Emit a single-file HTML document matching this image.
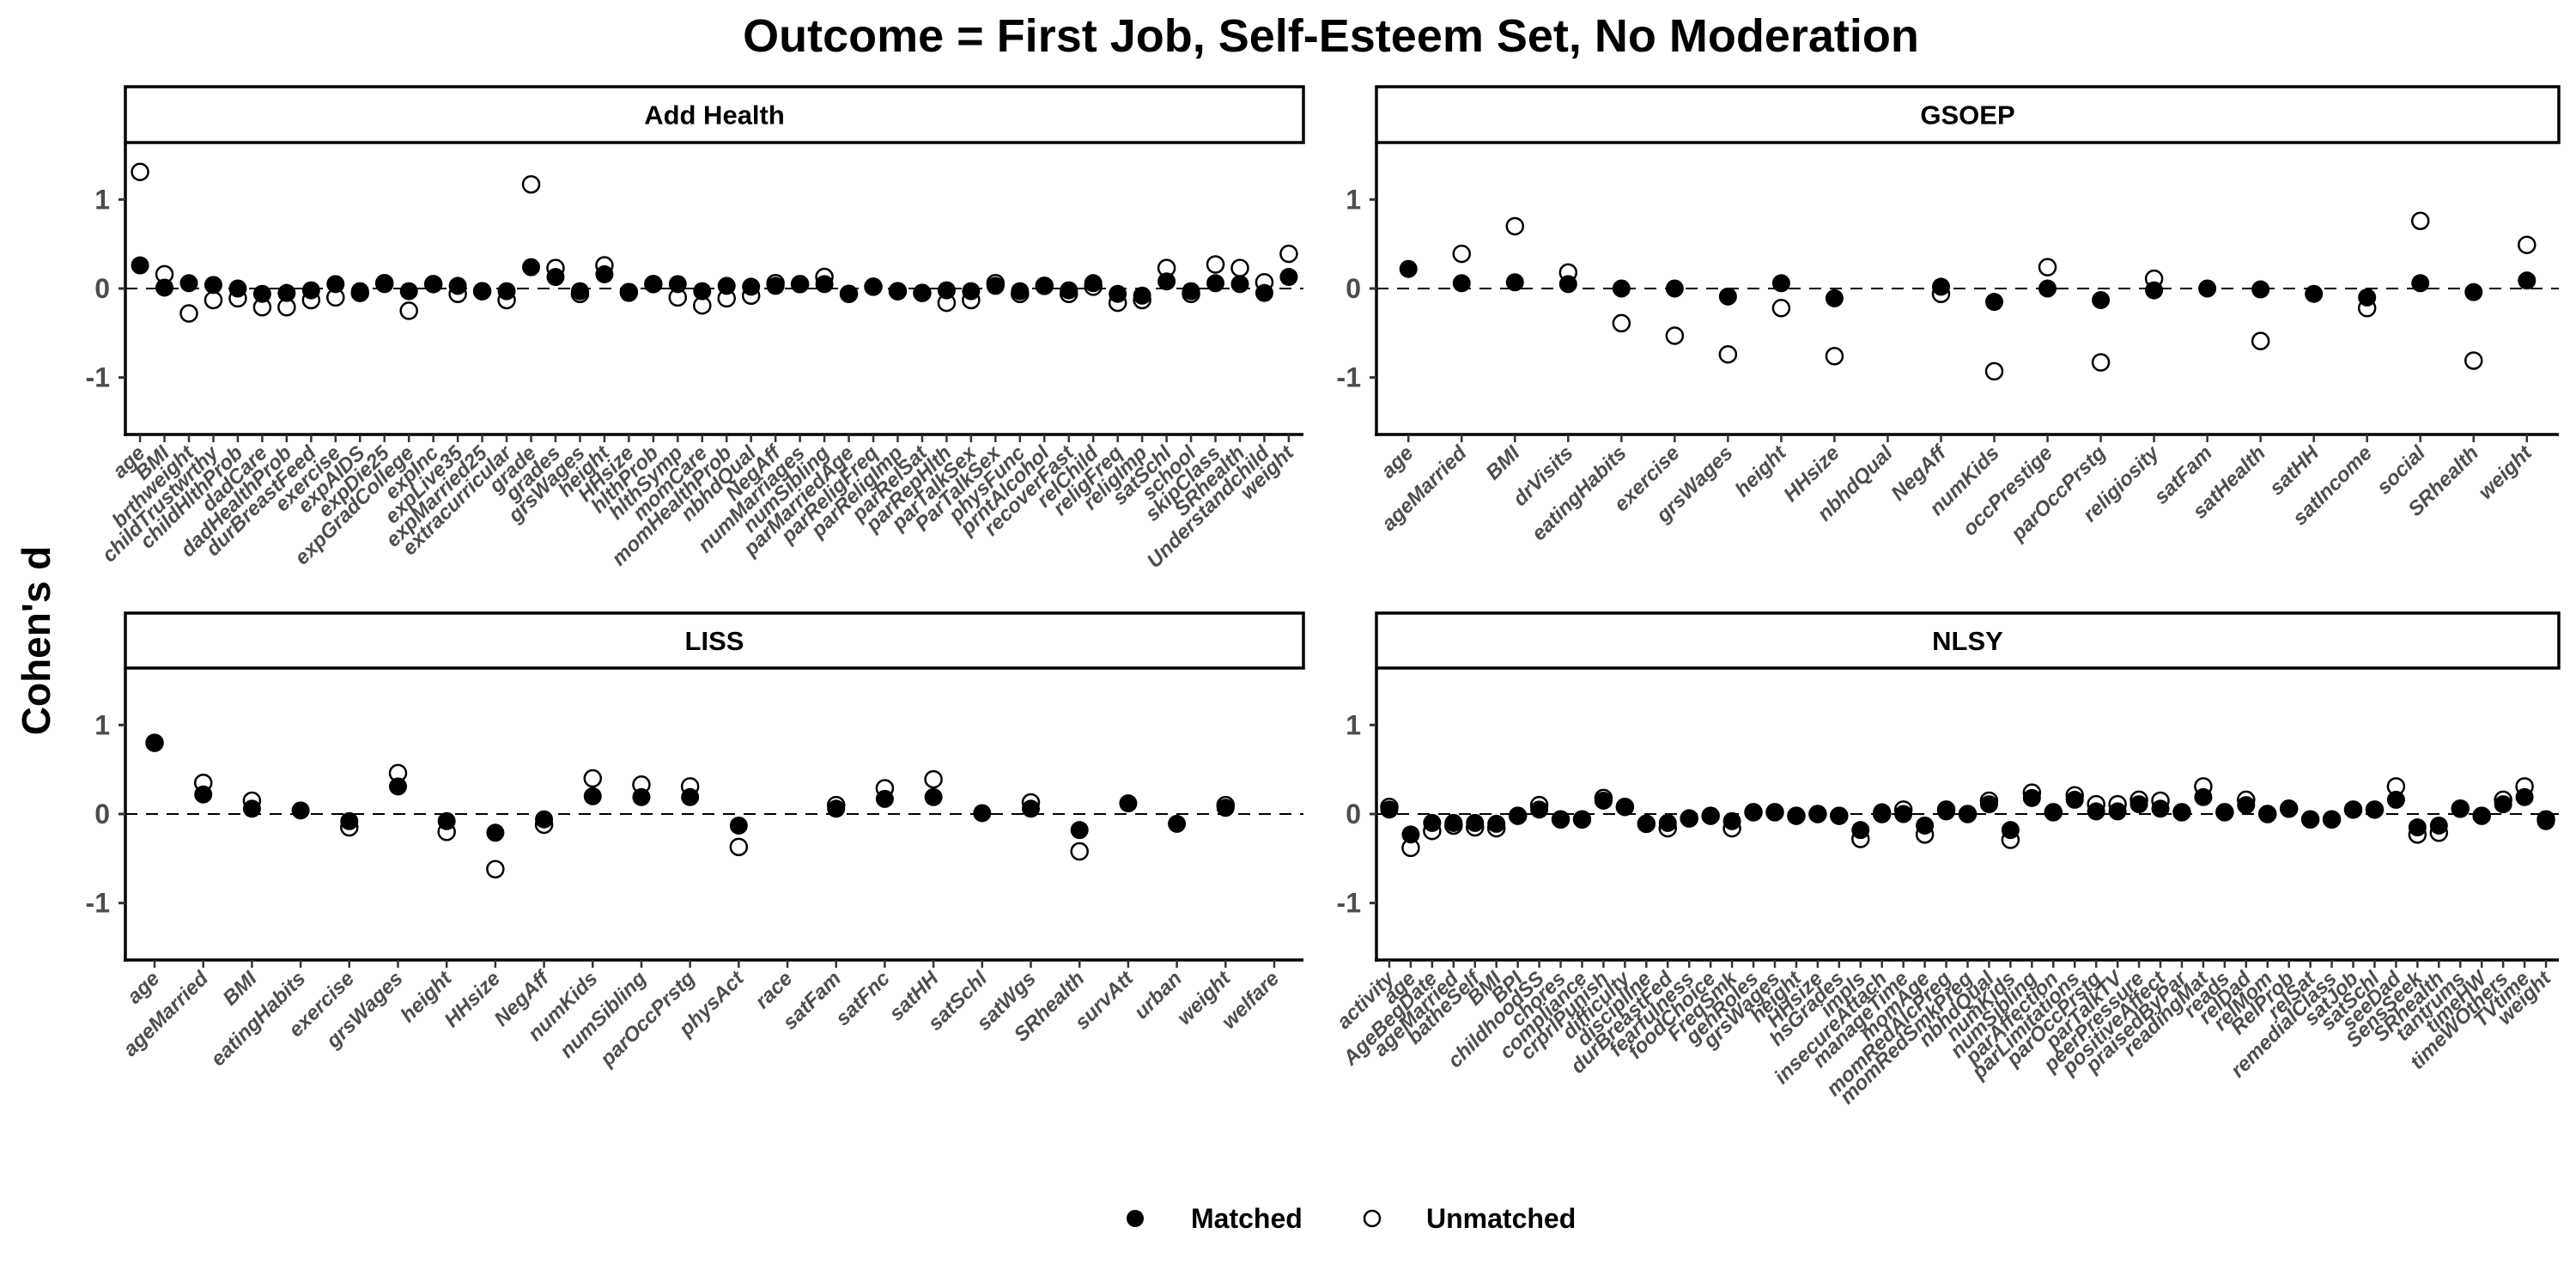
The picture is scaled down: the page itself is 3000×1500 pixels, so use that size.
<!DOCTYPE html>
<html><head><meta charset="utf-8"><style>
html,body{margin:0;padding:0;background:#fff;}
svg{display:block;font-family:"Liberation Sans",Arial,sans-serif;}
</style></head><body>
<svg id="chart" width="3000" height="1500" viewBox="0 0 3000 1500" xmlns="http://www.w3.org/2000/svg">
<text x="1550" y="60" text-anchor="middle" font-size="54" font-weight="bold">Outcome = First Job, Self-Esteem Set, No Moderation</text>
<text transform="translate(58,746) rotate(-90)" text-anchor="middle" font-size="46" font-weight="bold">Cohen's d</text>
<g>
<circle cx="1322" cy="1419" r="10" fill="#000"/>
<text x="1387" y="1430" font-size="32" font-weight="bold">Matched</text>
<circle cx="1598" cy="1419" r="9" fill="none" stroke="#000" stroke-width="2.5"/>
<text x="1661" y="1430" font-size="32" font-weight="bold">Unmatched</text>
</g>
<g id="panels"></g>
</svg>
<script>
const ahCats=["age","BMI","brthweight","childTrustwrthy","childHlthProb","dadCare","dadHealthProb","durBreastFeed","exercise","expAIDS","expDie25","expGradCollege","expInc","expLive35","expMarried25","extracurricular","grade","grades","grsWages","height","HHsize","hlthProb","hlthSymp","momCare","momHealthProb","nbhdQual","NegAff","numMarriages","numSibling","parMarriedAge","parReligFreq","parReligImp","parRelSat","parRepHlth","parTalkSex","ParTalkSex","physFunc","prntAlcohol","recoverFast","relChild","religFreq","religImp","satSchl","school","skipClass","SRhealth","Understandchild","weight"];
const ahMatched=[0.26,0.01,0.06,0.04,0,-0.06,-0.05,-0.02,0.05,-0.03,0.05,-0.03,0.05,0.03,-0.03,-0.03,0.24,0.13,-0.03,0.16,-0.05,0.05,0.05,-0.03,0.03,0.02,0.03,0.05,0.05,-0.06,0.02,-0.03,-0.05,-0.02,-0.03,0.03,-0.03,0.03,-0.02,0.06,-0.06,-0.08,0.08,-0.03,0.06,0.05,-0.05,0.13];
const ahUnmatched=[1.31,0.16,-0.28,-0.13,-0.11,-0.21,-0.21,-0.13,-0.1,-0.05,0.06,-0.25,0.05,-0.06,-0.03,-0.13,1.17,0.23,-0.06,0.26,-0.04,0.05,-0.1,-0.19,-0.11,-0.08,0.06,0.05,0.13,-0.06,0.02,-0.03,-0.05,-0.16,-0.13,0.06,-0.06,0.03,-0.06,0.02,-0.16,-0.13,0.23,-0.06,0.27,0.23,0.07,0.39];
const gsCats=["age","ageMarried","BMI","drVisits","eatingHabits","exercise","grsWages","height","HHsize","nbhdQual","NegAff","numKids","occPrestige","parOccPrstg","religiosity","satFam","satHealth","satHH","satIncome","social","SRhealth","weight"];
const gsMatched=[0.22,0.06,0.07,0.05,0,0,-0.09,0.06,-0.11,null,0.02,-0.15,0,-0.13,-0.02,0,-0.01,-0.06,-0.1,0.06,-0.04,0.09];
const gsUnmatched=[null,0.39,0.7,0.18,-0.39,-0.53,-0.74,-0.22,-0.76,null,-0.06,-0.93,0.24,-0.83,0.11,null,-0.59,null,-0.22,0.76,-0.81,0.49];
const liCats=["age","ageMarried","BMI","eatingHabits","exercise","grsWages","height","HHsize","NegAff","numKids","numSibling","parOccPrstg","physAct","race","satFam","satFnc","satHH","satSchl","satWgs","SRhealth","survAtt","urban","weight","welfare"];
const liMatched=[0.8,0.22,0.06,0.04,-0.08,0.31,-0.08,-0.21,-0.06,0.2,0.19,0.19,-0.13,null,0.06,0.17,0.19,0.01,0.06,-0.18,0.12,-0.11,0.07,null];
const liUnmatched=[0.8,0.35,0.15,null,-0.15,0.46,-0.2,-0.62,-0.12,0.4,0.33,0.31,-0.37,null,0.1,0.29,0.39,null,0.13,-0.42,null,null,0.1,null];
const nlCats=["activity","age","AgeBegDate","ageMarried","batheSelf","BMI","BPI","childhoodSS","chores","compliance","crprlPunish","difficulty","discipline","durBreastFed","fearfulness","foodChoice","FreqSmk","genRoles","grsWages","height","HHsize","hsGrades","impls","insecureAttach","manageTime","momAge","momRedAlcPreg","momRedSmkPreg","nbhdQual","numKids","numSibling","parAffection","parLimitations","parOccPrstg","parTalkTV","peerPressure","positiveAffect","praisedByPar","readingMat","reads","relDad","relMom","RelProb","relSat","remedialClass","satJob","satSchl","seeDad","SensSeek","SRhealth","tantrums","timeHW","timeWOthers","TVtime","weight"];
const nlMatched=[0.05,-0.23,-0.1,-0.1,-0.1,-0.11,-0.02,0.05,-0.06,-0.06,0.15,0.08,-0.11,-0.1,-0.05,-0.02,-0.08,0.02,0.02,-0.02,0,-0.02,-0.18,0.02,0,-0.13,0.03,0,0.11,-0.18,0.18,0.02,0.16,0.03,0.03,0.11,0.06,0.02,0.19,0.02,0.1,0,0.06,-0.06,-0.06,0.05,0.05,0.16,-0.15,-0.13,0.06,-0.02,0.11,0.19,-0.08];
const nlUnmatched=[0.08,-0.38,-0.19,-0.13,-0.15,-0.16,-0.02,0.1,-0.06,-0.06,0.18,0.08,-0.11,-0.16,-0.05,-0.02,-0.16,0.02,0.02,-0.02,0,-0.02,-0.28,0,0.05,-0.23,0.05,0,0.15,-0.29,0.24,0.02,0.21,0.11,0.11,0.16,0.15,0.02,0.31,0.02,0.16,0,0.06,-0.06,-0.06,0.05,0.05,0.31,-0.23,-0.21,0.06,-0.02,0.16,0.31,-0.06];
const yTicks=[-1,0,1];
const yMin=-1.64, yMax=1.64;

const NS="http://www.w3.org/2000/svg";
const root=document.getElementById('panels');
function mk(tag,attrs,parent){const e=document.createElementNS(NS,tag);for(const k in attrs)e.setAttribute(k,attrs[k]);parent.appendChild(e);return e;}

function panel(name,title,cats,matched,unmatched,x0,x1,stripTop,y0,y1){
  const g=mk('g',{},root);
  
  
  const n=cats.length;
  const step=(x1-x0)/(n-1+1.2);
  const xs=i=>x0+step*(0.6+i);
  const ys=v=>y1-(v-yMin)/(yMax-yMin)*(y1-y0);
  const strip=mk('rect',{x:x0,y:stripTop,width:x1-x0,height:y0-stripTop,fill:'#fff',stroke:'#000','stroke-width':3.5},g);
  
  
  const st=mk('text',{x:(x0+x1)/2,y:(stripTop+y0)/2+11,'text-anchor':'middle','font-size':31,'font-weight':'bold'},g);
  st.textContent=title;
  
  
  const zl=mk('line',{x1:x0,x2:x1,y1:ys(0),y2:ys(0),stroke:'#000','stroke-width':2,'stroke-dasharray':'14,10'},g);
  
  
  const ya=mk('line',{x1:x0,x2:x0,y1:y0,y2:y1+2,stroke:'#000','stroke-width':3.5},g);
  
  
  const xa=mk('line',{x1:x0-2,x2:x1,y1:y1,y2:y1,stroke:'#000','stroke-width':3.5},g);
  
  
  yTicks.forEach(t=>{
    const tk=mk('line',{x1:x0-8,x2:x0,y1:ys(t),y2:ys(t),stroke:'#333','stroke-width':3},g);
    
    
    const tl=mk('text',{x:x0-18,y:ys(t)+11,'text-anchor':'end','font-size':32,'font-weight':'bold',fill:'#4d4d4d'},g);
    tl.textContent=String(t);
    
    
  });
  cats.forEach((c,i)=>{
    const x=xs(i);
    const tk=mk('line',{x1:x,x2:x,y1:y1,y2:y1+9,stroke:'#333','stroke-width':2.5},g);
    
    
    const tl=mk('text',{transform:`translate(${x+7},${y1+23}) rotate(-45)`,'text-anchor':'end','font-size':24,'font-weight':'bold','font-style':'italic',fill:'#4d4d4d'},g);
    tl.textContent=c;
    
    
  });
  unmatched.forEach((v,i)=>{
    if(v===null)return;
    const p=mk('circle',{cx:xs(i),cy:ys(v),r:9.5,fill:'none',stroke:'#000','stroke-width':2.5},g);
    
    
  });
  matched.forEach((v,i)=>{
    if(v===null)return;
    const p=mk('circle',{cx:xs(i),cy:ys(v),r:10.5,fill:'#000'},g);
    
    
  });
}
panel('add-health','Add Health',ahCats,ahMatched,ahUnmatched,146,1518,101,166,506);
panel('gsoep','GSOEP',gsCats,gsMatched,gsUnmatched,1603,2980,101,166,506);
panel('liss','LISS',liCats,liMatched,liUnmatched,146,1518,714,778,1118);
panel('nlsy','NLSY',nlCats,nlMatched,nlUnmatched,1603,2980,714,778,1118);
</script>
</body></html>
